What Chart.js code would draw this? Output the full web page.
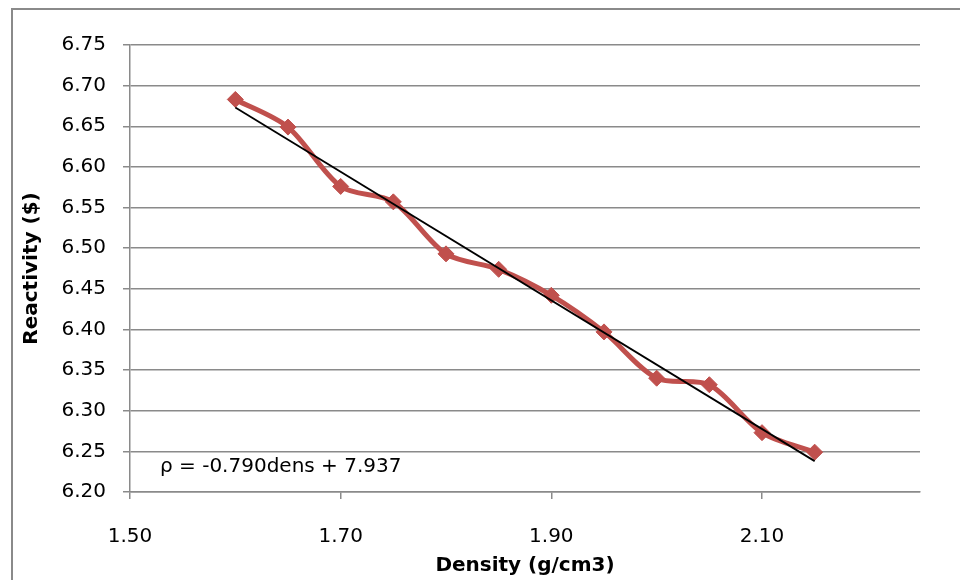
<!DOCTYPE html>
<html>
<head>
<meta charset="utf-8">
<script src="https://cdn.jsdelivr.net/npm/chart.js@4/dist/chart.umd.min.js"></script>
<style>
html,body{margin:0;padding:0;background:#fff;}
#wrap{width:960px;height:580px;position:relative;}
</style>
</head>
<body>
<div id="wrap"><canvas id="c" width="960" height="580"></canvas></div>
<script>
const density = [1.60, 1.65, 1.70, 1.75, 1.80, 1.85, 1.90, 1.95, 2.00, 2.05, 2.10, 2.15];
const reactivity = [6.683, 6.649, 6.576, 6.557, 6.493, 6.474, 6.442, 6.397, 6.340, 6.332, 6.273, 6.249];
const trendX = [1.60, 2.15];
const trendY = [6.673, 6.238];
const xTickValues = [1.50, 1.70, 1.90, 2.10];
const equationText = "ρ = -0.790dens + 7.937";
const xTitle = "Density (g/cm3)";
const yTitle = "Reactivity ($)";

const FONT = "'DejaVu Sans'";
const FS = 20;
const gridColor = "#8a8a8a";

const borderPlugin = {
  id: 'outerBorder',
  beforeDraw(chart) {
    const ctx = chart.ctx;
    ctx.save();
    ctx.fillStyle = '#fff';
    ctx.fillRect(0, 0, chart.width, chart.height);
    ctx.strokeStyle = '#8a8a8a';
    ctx.lineWidth = 2;
    ctx.beginPath();
    ctx.moveTo(12, 580);
    ctx.lineTo(12, 9);
    ctx.lineTo(960, 9);
    ctx.stroke();
    ctx.restore();
  }
};

const eqPlugin = {
  id: 'equation',
  afterDatasetsDraw(chart) {
    const ctx = chart.ctx;
    const a = chart.chartArea;
    ctx.save();
    ctx.font = FS + "px " + FONT;
    ctx.fillStyle = "#000";
    ctx.textAlign = "left";
    ctx.textBaseline = "middle";
    ctx.fillText(equationText, a.left + 30, a.bottom - 25);
    ctx.restore();
  }
};

new Chart(document.getElementById('c'), {
  type: 'scatter',
  data: {
    datasets: [
      {
        label: 'Reactivity',
        data: density.map((d, i) => ({x: d, y: reactivity[i]})),
        showLine: true,
        borderColor: '#C0504D',
        backgroundColor: '#C0504D',
        borderWidth: 5,
        tension: 0.3,
        pointStyle: 'rectRot',
        pointRadius: 8,
        pointHoverRadius: 8,
        pointBorderWidth: 1,
        order: 2
      },
      {
        label: 'Trend',
        data: trendX.map((d, i) => ({x: d, y: trendY[i]})),
        showLine: true,
        borderColor: '#000',
        backgroundColor: '#000',
        borderWidth: 1.8,
        pointRadius: 0,
        tension: 0,
        order: 1
      }
    ]
  },
  options: {
    responsive: false,
    animation: false,
    layout: {padding: {top: 45, right: 40, left: 0, bottom: 0}},
    plugins: {legend: {display: false}, tooltip: {enabled: false}},
    scales: {
      x: {
        type: 'linear',
        min: 1.5,
        max: 2.25,
        afterFit(s) { s.height = 88; },
        afterBuildTicks(s) { s.ticks = xTickValues.map(v => ({value: v})); },
        ticks: {
          padding: 26,
          color: '#000',
          font: {family: FONT, size: FS},
          maxRotation: 0,
          autoSkip: false,
          callback: v => Number(v).toFixed(2)
        },
        grid: {drawOnChartArea: false, color: gridColor, lineWidth: 1.5, tickLength: 7},
        border: {display: true, color: gridColor, width: 1.5},
        title: {display: true, text: xTitle, color: '#000', font: {family: FONT, size: FS, weight: 'bold'}, padding: {top: 0, bottom: 2}}
      },
      y: {
        min: 6.2,
        max: 6.75,
        afterFit(s) { s.width = 130; },
        ticks: {
          stepSize: 0.05,
          padding: 17,
          color: '#000',
          font: {family: FONT, size: FS},
          callback: v => Number(v).toFixed(2)
        },
        grid: {color: gridColor, lineWidth: 1.5, tickLength: 7},
        border: {display: true, color: gridColor, width: 1.5},
        title: {display: true, text: yTitle, color: '#000', font: {family: FONT, size: FS, weight: 'bold'}, padding: {top: 20, bottom: 0}}
      }
    }
  },
  plugins: [borderPlugin, eqPlugin]
});
</script>
</body>
</html>
